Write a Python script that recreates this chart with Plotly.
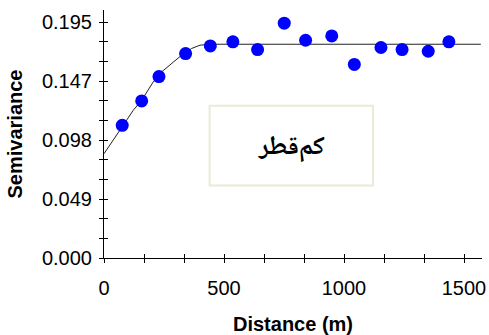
import plotly.graph_objects as go

# Experimental semivariogram points
distance = [76, 157, 229, 340, 443, 537, 640, 751, 840, 949, 1043, 1154, 1242, 1351, 1437]
semivariance = [0.1097, 0.1298, 0.1500, 0.1690, 0.1753, 0.1787, 0.1723, 0.1941, 0.1800,
                0.1836, 0.1600, 0.1740, 0.1723, 0.1709, 0.1787]

# Fitted model curve
model_distance = [0, 46, 81, 122, 157, 205, 240, 282, 323, 365, 400, 442, 1570]
model_value = [0.0862, 0.0994, 0.1097, 0.1221, 0.1304, 0.1455, 0.1538, 0.1608, 0.1676,
               0.1732, 0.1759, 0.1767, 0.1767]

# Tick marks and labels
y_tickvals = [0.0, 0.01625, 0.0325, 0.04875, 0.065, 0.08125, 0.0975, 0.11375, 0.13,
              0.14625, 0.1625, 0.17875, 0.195]
y_ticktext = ["0.000", "", "", "0.049", "", "", "0.098", "", "", "0.147", "", "", "0.195"]
x_tickvals = [0, 166.67, 333.33, 500, 666.67, 833.33, 1000, 1166.67, 1333.33, 1500]
x_ticktext = ["0", "", "", "500", "", "", "1000", "", "", "1500"]

label_text = "کم‌قطر"

X_RANGE = [0, 1575]
Y_RANGE = [0, 0.205]

fig = go.Figure()
fig.add_trace(go.Scatter(x=model_distance, y=model_value, mode="lines",
                         line=dict(color="#222222", width=1), showlegend=False, hoverinfo="skip"))
fig.add_trace(go.Scatter(x=distance, y=semivariance, mode="markers",
                         marker=dict(color="#0000ff", size=13, line=dict(width=0)), showlegend=False))
# invisible trace on overlay axes for inner tick halves
fig.add_trace(go.Scatter(x=[None], y=[None], xaxis="x2", yaxis="y2", showlegend=False))

font_tick = dict(family="Liberation Sans, Arial", size=20, color="#000000")
font_title = dict(family="Liberation Sans, Arial", size=20, color="#000000")

fig.update_layout(
    width=489, height=335,
    margin=dict(l=104, r=7, t=10, b=77),
    paper_bgcolor="white", plot_bgcolor="white",
    xaxis=dict(range=X_RANGE, tickmode="array", tickvals=x_tickvals, ticktext=x_ticktext,
               ticks="outside", ticklen=4, tickcolor="#000", tickwidth=1, automargin=False,
               showline=True, linecolor="#000", linewidth=1, showgrid=False, zeroline=False,
               tickfont=font_tick, ticklabelstandoff=8,
               title=dict(text="<b>Distance (m)</b>", font=font_title, standoff=22)),
    yaxis=dict(range=Y_RANGE, tickmode="array", tickvals=y_tickvals, ticktext=y_ticktext,
               ticks="outside", ticklen=4, tickcolor="#000", tickwidth=1, automargin=False,
               showline=True, linecolor="#000", linewidth=1, showgrid=False, zeroline=False,
               tickfont=font_tick, ticklabelstandoff=3,
               title=dict(text="<b>Semivariance</b>", font=font_title, standoff=13)),
    xaxis2=dict(range=X_RANGE, overlaying="x", anchor="y", side="bottom", tickmode="array",
                tickvals=x_tickvals, ticks="inside", ticklen=4, tickcolor="#000", automargin=False,
                showticklabels=False, showgrid=False, zeroline=False, showline=False),
    yaxis2=dict(range=Y_RANGE, overlaying="y", anchor="x", side="left", tickmode="array",
                tickvals=y_tickvals, ticks="inside", ticklen=4, tickcolor="#000", automargin=False,
                showticklabels=False, showgrid=False, zeroline=False, showline=False),
    shapes=[dict(type="rect", xref="x", yref="y", x0=440, x1=1121, y0=0.1258, y1=0.0600,
                 line=dict(color="#ece9d8", width=2), fillcolor="rgba(0,0,0,0)")],
    annotations=[dict(x=780, y=0.0907, xref="x", yref="y", text="<b>" + label_text + "</b>",
                      showarrow=False,
                      font=dict(family="Noto Naskh Arabic, Noto Sans Arabic, DejaVu Sans",
                                size=26, color="#000"))],
)

fig.write_html("out.html", config={"displayModeBar": False},
               post_script="document.body.style.margin='0';")
